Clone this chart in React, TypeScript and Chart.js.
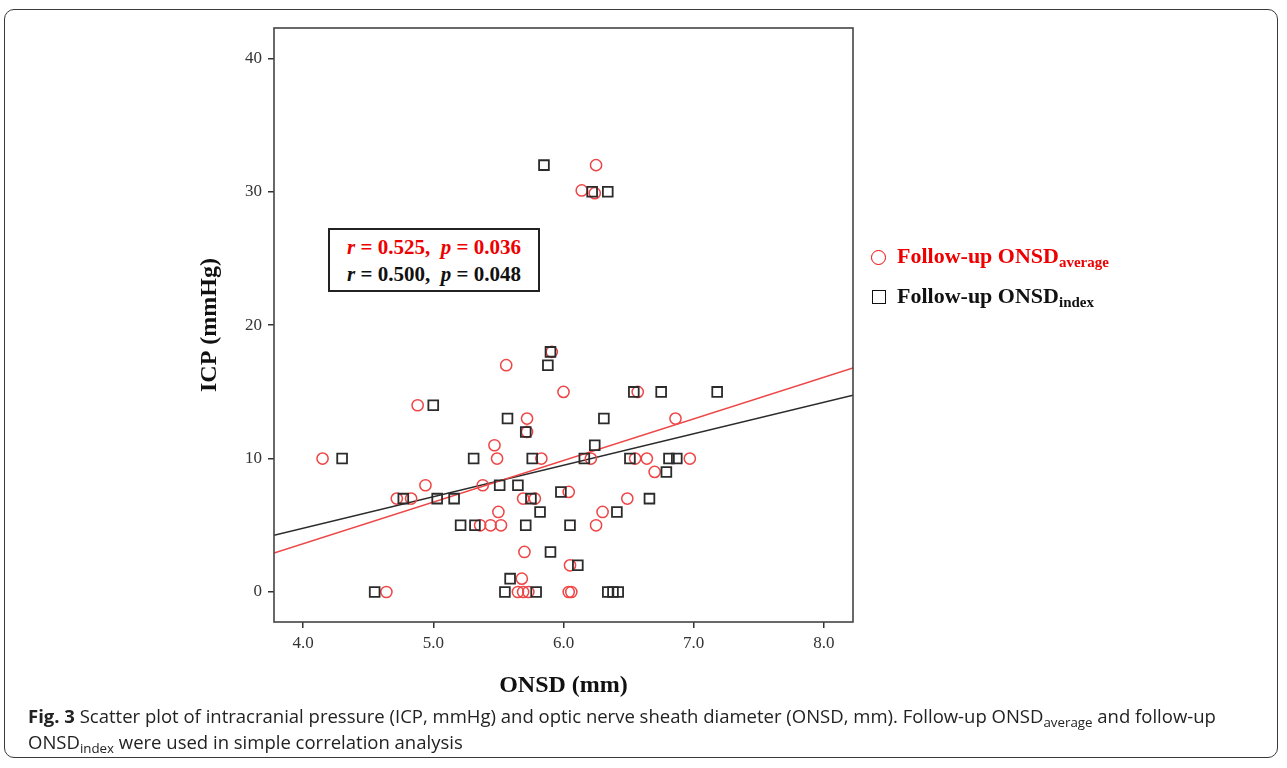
import React, { useEffect, useRef } from "react";
import { Chart, registerables } from "chart.js";

Chart.register(...registerables);

// ---- data ----
const xTicks = [4, 5, 6, 7, 8];
const yTicks = [0, 10, 20, 30, 40];
const X_MIN = 3.777;
const X_MAX = 8.223;
const Y_MIN = -2.25;
const Y_MAX = 42.28;

// Follow-up ONSD average (red circles)
const avgX = [5.56, 4.88, 5.47, 4.15, 5.49, 6.0, 6.57, 5.72, 6.86, 5.83, 6.21, 6.55, 6.64, 6.97, 6.7, 4.94, 5.38, 4.72, 4.83, 5.5, 5.36, 5.44, 5.52, 4.64, 6.04, 5.69, 5.78, 6.49, 6.3, 6.25, 5.7, 6.05, 5.68, 5.65, 5.69, 5.73, 6.04, 6.06, 6.25, 6.14, 6.24, 5.91, 5.72];
const avgY = [17, 14, 11, 10, 10, 15, 15, 13, 13, 10, 10, 10, 10, 10, 9, 8, 8, 7, 7, 6, 5, 5, 5, 0, 7.5, 7, 7, 7, 6, 5, 3, 2, 1, 0, 0, 0, 0, 0, 32, 30.1, 29.9, 18, 12];

// Follow-up ONSD index (black squares)
const idxX = [5.9, 5.88, 5.0, 5.57, 4.3, 5.31, 6.54, 6.75, 7.18, 6.31, 5.71, 6.24, 5.76, 6.16, 6.51, 6.81, 6.87, 6.79, 5.51, 5.65, 4.77, 5.03, 5.16, 5.21, 5.32, 5.59, 4.55, 5.55, 5.98, 5.75, 6.66, 5.82, 6.41, 5.71, 6.05, 5.9, 6.11, 5.79, 6.34, 6.38, 6.42, 5.85, 6.22, 6.34];
const idxY = [18, 17, 14, 13, 10, 10, 15, 15, 15, 13, 12, 11, 10, 10, 10, 10, 10, 9, 8, 8, 7, 7, 7, 5, 5, 1, 0, 0, 7.5, 7, 7, 6, 6, 5, 5, 3, 2, 0, 0, 0, 0, 32, 30, 30];

// fitted lines: values at X_MIN and X_MAX
const fitAvgY = [2.92, 16.8];
const fitIdxY = [4.25, 14.75];

const RED = "rgb(238, 70, 70)";
const DARK = "#2b2b2b";

const framePlugin = {
  id: "frame",
  afterDraw(chart: any) {
    const { ctx, chartArea } = chart;
    ctx.save();
    ctx.strokeStyle = "#444";
    ctx.lineWidth = 1.6;
    ctx.strokeRect(chartArea.left, chartArea.top, chartArea.right - chartArea.left, chartArea.bottom - chartArea.top);
    ctx.restore();
  },
};

export default function App() {
  const ref = useRef<HTMLCanvasElement | null>(null);

  useEffect(() => {
    if (!ref.current) return;
    const tickFont = { family: "'Liberation Serif', 'DejaVu Serif', serif", size: 17 };
    const titleFont = { family: "'Liberation Serif', serif", size: 24, weight: "bold" as const };
    const chart = new Chart(ref.current, {
      type: "scatter",
      data: {
        datasets: [
          {
            label: "Follow-up ONSD index",
            data: idxX.map((x, i) => ({ x, y: idxY[i] })),
            pointStyle: "rect",
            pointRadius: 6.9,
            pointBorderWidth: 1.8,
            borderColor: DARK,
            backgroundColor: "rgba(0,0,0,0)",
            order: 0,
          },
          {
            label: "Follow-up ONSD average",
            data: avgX.map((x, i) => ({ x, y: avgY[i] })),
            pointStyle: "circle",
            pointRadius: 5.6,
            pointBorderWidth: 1.5,
            borderColor: RED,
            backgroundColor: "rgba(0,0,0,0)",
            order: 1,
          },
          {
            label: "fit average",
            data: [
              { x: X_MIN, y: fitAvgY[0] },
              { x: X_MAX, y: fitAvgY[1] },
            ],
            showLine: true,
            pointRadius: 0,
            borderColor: RED,
            borderWidth: 1.5,
            order: 2,
          },
          {
            label: "fit index",
            data: [
              { x: X_MIN, y: fitIdxY[0] },
              { x: X_MAX, y: fitIdxY[1] },
            ],
            showLine: true,
            pointRadius: 0,
            borderColor: DARK,
            borderWidth: 1.5,
            order: 3,
          },
        ],
      },
      options: {
        animation: false,
        responsive: false,
        devicePixelRatio: 1,
        layout: { padding: { left: 174, right: 434, top: 28, bottom: 46 } },
        plugins: { legend: { display: false }, tooltip: { enabled: false } },
        scales: {
          x: {
            type: "linear",
            min: X_MIN,
            max: X_MAX,
            afterBuildTicks: (s: any) => {
              s.ticks = xTicks.map((v) => ({ value: v }));
            },
            afterFit: (s: any) => {
              s.height = 100;
            },
            border: { display: false },
            grid: { drawOnChartArea: false, drawTicks: true, tickLength: 6, color: "#333", lineWidth: 1.5 },
            ticks: { color: "#333", font: tickFont, padding: 5, callback: (v: any) => Number(v).toFixed(1), maxRotation: 0 },
            title: { display: true, text: "ONSD (mm)", color: "#111", font: titleFont, padding: { top: 0, bottom: 22 } },
          },
          y: {
            type: "linear",
            min: Y_MIN,
            max: Y_MAX,
            afterBuildTicks: (s: any) => {
              s.ticks = yTicks.map((v) => ({ value: v }));
            },
            afterFit: (s: any) => {
              s.width = 100;
            },
            border: { display: false },
            grid: { drawOnChartArea: false, drawTicks: true, tickLength: 6, color: "#333", lineWidth: 1.5 },
            ticks: { color: "#333", font: tickFont, padding: 6 },
            title: { display: true, text: "ICP (mmHg)", color: "#111", font: titleFont, padding: { top: 21, bottom: 0 } },
          },
        },
      },
      plugins: [framePlugin],
    });
    return () => chart.destroy();
  }, []);

  const serif = "'Liberation Serif', 'Times New Roman', serif";
  const subStyle: React.CSSProperties = { fontSize: "0.68em", verticalAlign: "-0.3em", lineHeight: 0 };
  const capSub: React.CSSProperties = { fontSize: "0.72em", verticalAlign: "-0.3em", lineHeight: 0 };

  return (
    <div style={{ position: "absolute", left: 0, top: 0, width: 1287, height: 768, background: "#fff", overflow: "hidden" }}>
      <div
        style={{
          position: "absolute",
          left: 4,
          top: 9,
          width: 1274,
          height: 749,
          border: "1.5px solid #3a3a3a",
          borderRadius: 10,
          boxSizing: "border-box",
        }}
      />
      <canvas ref={ref} width={1287} height={768} style={{ position: "absolute", left: 0, top: 0 }} />

      {/* correlation box */}
      <div
        style={{
          position: "absolute",
          left: 328,
          top: 228,
          width: 212,
          height: 64,
          boxSizing: "border-box",
          border: "2px solid #222",
          background: "#fff",
          fontFamily: serif,
          fontWeight: "bold",
          fontSize: 21,
          textAlign: "center",
          lineHeight: "27px",
          paddingTop: 4,
        }}
      >
        <div style={{ color: "#e00" }}>
          <i>r</i> = 0.525,&nbsp; <i>p</i> = 0.036
        </div>
        <div style={{ color: "#111" }}>
          <i>r</i> = 0.500,&nbsp; <i>p</i> = 0.048
        </div>
      </div>

      {/* legend */}
      <div style={{ position: "absolute", left: 871, top: 250, width: 15, height: 15, boxSizing: "border-box", border: "1.5px solid #e00", borderRadius: "50%" }} />
      <div
        style={{ position: "absolute", left: 897, top: 243, fontFamily: serif, fontWeight: "bold", fontSize: 22, color: "#e00", whiteSpace: "nowrap", lineHeight: "26px" }}
      >
        Follow-up ONSD<span style={subStyle}>average</span>
      </div>
      <div style={{ position: "absolute", left: 872, top: 290, width: 14, height: 14, boxSizing: "border-box", border: "1.5px solid #111" }} />
      <div
        style={{ position: "absolute", left: 897, top: 283, fontFamily: serif, fontWeight: "bold", fontSize: 22, color: "#111", whiteSpace: "nowrap", lineHeight: "26px" }}
      >
        Follow-up ONSD<span style={subStyle}>index</span>
      </div>

      {/* caption */}
      <div
        style={{
          position: "absolute",
          left: 28,
          top: 703,
          fontFamily: "'Open Sans', 'Noto Sans', sans-serif",
          fontSize: 18.5,
          lineHeight: "26px",
          color: "#222",
          whiteSpace: "nowrap",
        }}
      >
        <b>Fig. 3</b> Scatter plot of intracranial pressure (ICP, mmHg) and optic nerve sheath diameter (ONSD, mm). Follow-up ONSD
        <span style={capSub}>average</span> and follow-up
        <br />
        ONSD<span style={capSub}>index</span> were used in simple correlation analysis
      </div>
    </div>
  );
}
